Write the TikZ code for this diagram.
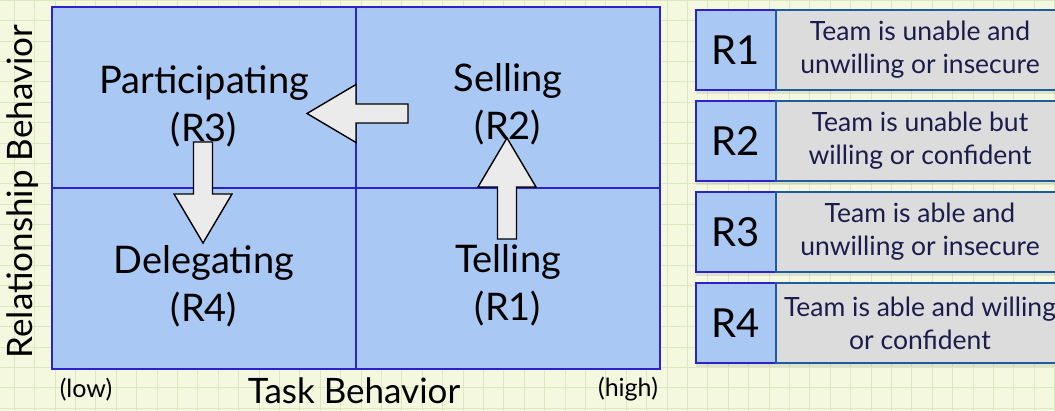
\documentclass[tikz,border=0pt]{standalone}
\usepackage{fontspec}
\setmainfont{Lato}
\usetikzlibrary{positioning}
\usetikzlibrary{shadows}

\definecolor{paper}{HTML}{F4F8DF}
\definecolor{paperline}{HTML}{DCE8C2}
\definecolor{quadfill}{HTML}{A9C8F4}
\definecolor{quadline}{HTML}{2A22CC}
\definecolor{descfill}{HTML}{DCDCDC}
\definecolor{descline}{HTML}{1E5C9E}
\definecolor{desctext}{HTML}{1C1C4C}
\definecolor{arrowfill}{HTML}{EBEBEB}

\begin{document}
\begin{tikzpicture}[x=1pt, y=-1pt,
  quad/.style={draw=quadline, fill=quadfill, line width=2pt, minimum width=304pt, minimum height=181pt, outer sep=0pt, inner sep=0pt},
  quadlabel/.style={align=center, font=\fontsize{38}{48}\selectfont, inner sep=0pt},
  axislabel/.style={font=\fontsize{35}{40}\selectfont, inner sep=0pt},
  endlabel/.style={font=\fontsize{25}{28}\selectfont, inner sep=0pt},
  rbox/.style={draw=quadline, fill=quadfill, line width=2pt, minimum width=80pt, minimum height=80pt, outer sep=0pt, font=\fontsize{40}{48}\selectfont},
  descbox/.style={draw=descline, fill=descfill, line width=2pt, minimum width=288pt, minimum height=80pt, outer sep=0pt, align=center, text=desctext, font=\fontsize{26.5}{33}\selectfont},
  boxshadow/.style={drop shadow={shadow xshift=0pt, shadow yshift=-4pt, opacity=0.18}},
  blockarrow/.pic={\filldraw[fill=arrowfill, draw=black, line width=1.4pt] (0,-9.5) -- (52,-9.5) -- (52,-29) -- (101,0) -- (52,29) -- (52,9.5) -- (0,9.5) -- cycle;}]

% paper background
\useasboundingbox (0,0) rectangle (1055,411);
\fill[paper] (0,0) rectangle (1055,411);
\begin{scope}[x=1pt, y=1pt]
\clip (0,0) rectangle (1055,-411);
\draw[paperline, line width=1pt, step=20.4pt, shift={(14.2,-0.4)}] (-30,-440) grid (1080,30);
\end{scope}

% quadrants
\node[quad] (q3) at (204,97.5) {};
\node[quad] (q2) at (508,97.5) {};
\node[quad] (q4) at (204,278.5) {};
\node[quad] (q1) at (508,278.5) {};

\node[quadlabel] (l3) at (204,106) {Participating\\(R3)};
\node[quadlabel] (l2) at (508,104) {Selling\\(R2)};
\node[quadlabel] (l4) at (204,286) {Delegating\\(R4)};
\node[quadlabel] (l1) at (508,285) {Telling\\(R1)};

% axes
\node[axislabel, rotate=90] (ylab) at (23,191.5) {Relationship Behavior};
\node[axislabel, anchor=base] (xlab) at (354,404) {Task Behavior};
\node[endlabel, anchor=base] (low) at (86,398) {(low)};
\node[endlabel, anchor=base] (high) at (628,397) {(high)};

% moves between styles
\coordinate (a2) at (408,113.5);
\coordinate (a3) at (203,142);
\coordinate (a1) at (507,239);
\pic[rotate=180] at (a2) {blockarrow};
\pic[rotate=-90] at (a3) {blockarrow};
\pic[rotate=90] at (a1) {blockarrow};

% readiness table
\node[rbox, boxshadow] (r1) at (736,50) {R1};
\node[descbox, boxshadow, right=0pt of r1] (d1) {Team is unable and\\unwilling or insecure};
\node[rbox, boxshadow, below=11pt of r1] (r2) {R2};
\node[descbox, boxshadow, right=0pt of r2] (d2) {Team is unable but\\willing or confident};
\node[rbox, boxshadow, below=11pt of r2] (r3) {R3};
\node[descbox, boxshadow, right=0pt of r3] (d3) {Team is able and\\unwilling or insecure};
\node[rbox, boxshadow, below=11pt of r3] (r4) {R4};
\node[descbox, boxshadow, right=0pt of r4] (d4) {Team is able and willing\\or confident};
\end{tikzpicture}
\end{document}
